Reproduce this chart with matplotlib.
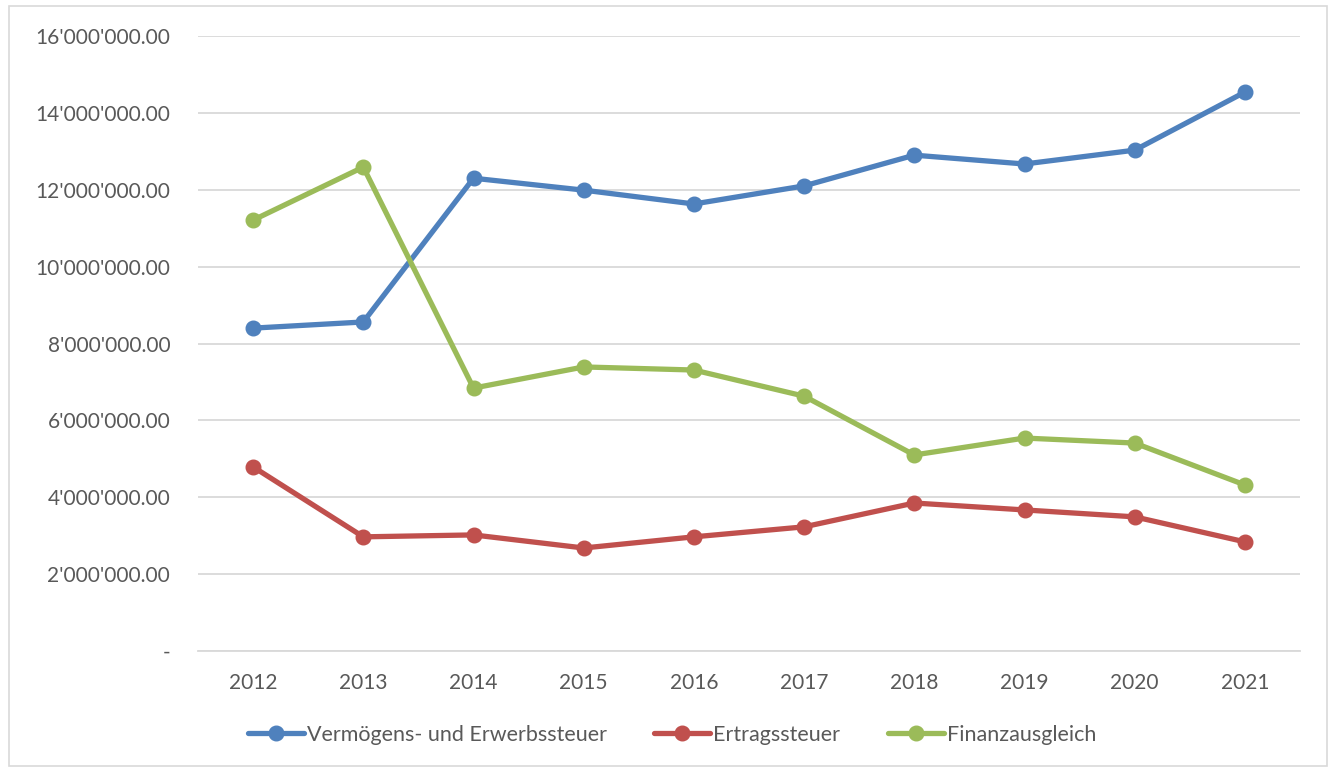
import matplotlib
matplotlib.use("Agg")
import matplotlib.pyplot as plt
from matplotlib.ticker import FuncFormatter, MultipleLocator
from matplotlib.patches import Rectangle

years = ["2012", "2013", "2014", "2015", "2016", "2017", "2018", "2019", "2020", "2021"]
vermoegen = [8.40e6, 8.56e6, 12.30e6, 11.99e6, 11.63e6, 12.10e6, 12.90e6, 12.67e6, 13.03e6, 14.54e6]
ertrag = [4.79e6, 2.97e6, 3.02e6, 2.68e6, 2.97e6, 3.23e6, 3.85e6, 3.67e6, 3.49e6, 2.84e6]
finanz = [11.21e6, 12.59e6, 6.84e6, 7.39e6, 7.31e6, 6.63e6, 5.10e6, 5.54e6, 5.41e6, 4.32e6]
series_names = ["Vermögens- und Erwerbssteuer", "Ertragssteuer", "Finanzausgleich"]

plt.rcParams['font.family'] = ['Lato', 'DejaVu Sans']
txt = "#595959"

fig = plt.figure(figsize=(13.33, 7.70), dpi=100)
fig.patches.append(Rectangle((9/1333, 1-766/770), 1318/1333, 760/770, transform=fig.transFigure,
                             fill=False, edgecolor="#d9d9d9", linewidth=1.2))
ax = fig.add_axes([198/1333, 1-651/770, 1102/1333, 615/770])

x = list(range(len(years)))
colors = ["#4F81BD", "#C0504D", "#9BBB59"]
for vals, c, name in zip([vermoegen, ertrag, finanz], colors, series_names):
    ax.plot(x, vals, color=c, linewidth=3.8, marker="o", markersize=10.5, label=name,
            solid_capstyle="round", zorder=3)

ax.set_xlim(-0.5, len(years) - 0.5)
ax.set_ylim(0, 16e6)
ax.yaxis.set_major_locator(MultipleLocator(2e6))

def fmt(v, pos):
    if abs(v) < 1:
        return "-"
    return f"{v:,.2f}".replace(",", "'")

ax.yaxis.set_major_formatter(FuncFormatter(fmt))
ax.set_xticks(x)
ax.set_xticklabels(years)
ax.grid(axis="y", color="#d9d9d9", linewidth=1.3)
ax.set_axisbelow(True)
for s in ["top", "right", "left"]:
    ax.spines[s].set_visible(False)
ax.spines["bottom"].set_color("#d9d9d9")
ax.spines["bottom"].set_linewidth(1.3)
ax.tick_params(axis="both", length=0, labelsize=15, colors=txt)
ax.tick_params(axis="y", pad=20)
ax.tick_params(axis="x", pad=16)

leg = fig.legend(loc="center", bbox_to_anchor=(672/1333, 1-735/770), ncol=3, frameon=False,
                 fontsize=15.5, handlelength=2.6, handletextpad=0.15, columnspacing=2.2)
for t in leg.get_texts():
    t.set_color(txt)

fig.savefig("out.png", dpi=100)
